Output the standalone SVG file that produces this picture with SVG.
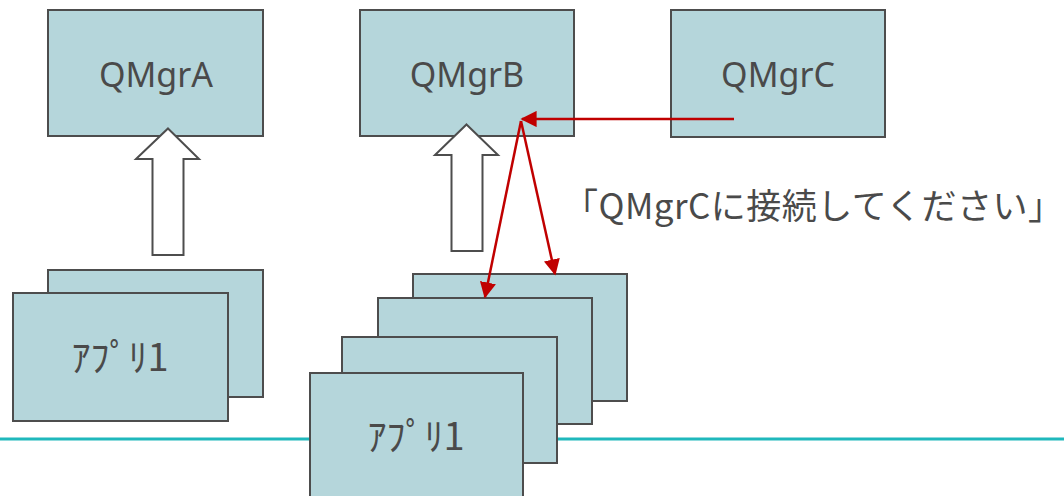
<svg xmlns="http://www.w3.org/2000/svg" width="1064" height="496" viewBox="0 0 1064 496">
<defs>
<style>
.box{fill:#b5d6db;stroke:#4d4d4d;stroke-width:2}
.lbl{font-family:"Noto Sans","Liberation Sans",sans-serif;font-size:34px;fill:#4a4a4a;text-anchor:middle}
.app{font-family:"Noto Sans CJK JP",sans-serif;font-size:38px;fill:#4a4a4a;text-anchor:middle}
.hollow{fill:#ffffff;stroke:#4d4d4d;stroke-width:2;stroke-linejoin:miter}
.red{stroke:#c00000;stroke-width:2.5;fill:none}
.note{font-family:"Noto Sans CJK JP",sans-serif;font-size:35px;fill:#4a4a4a}
</style>
<marker id="ah" viewBox="0 0 10 10" refX="9" refY="5" markerWidth="6.5" markerHeight="6.5" markerUnits="strokeWidth" orient="auto">
<path d="M0,0 L10,5 L0,10 z" fill="#c00000"/>
</marker>
</defs>
<rect width="1064" height="496" fill="#ffffff"/>
<line x1="0" y1="439" x2="1064" y2="439" stroke="#1fb8bc" stroke-width="3"/>
<g id="qmgrA"><rect class="box" x="48" y="10" width="215" height="126"/><text class="lbl" x="156" y="87">QMgrA</text></g>
<g id="qmgrB"><rect class="box" x="360" y="10" width="214" height="126"/><text class="lbl" x="467" y="87">QMgrB</text></g>
<g id="qmgrC"><rect class="box" x="671" y="10" width="214" height="127"/><text class="lbl" x="778" y="87">QMgrC</text></g>
<g id="appsLeft">
<rect class="box" x="48" y="270" width="215" height="127"/>
<rect class="box" x="13" y="293" width="215" height="128"/>
<text class="app" x="120" y="371">ｱﾌﾟﾘ1</text>
</g>
<g id="appsRight">
<rect class="box" x="413" y="274" width="214" height="127"/>
<rect class="box" x="378" y="298" width="214" height="126"/>
<rect class="box" x="342" y="337" width="215" height="126"/>
<rect class="box" x="310" y="373" width="213" height="130"/>
<text class="app" x="416" y="450">ｱﾌﾟﾘ1</text>
</g>
<g id="connectors">
<path class="hollow" d="M168,128.5 L199,159 L183.5,159 L183.5,255 L152.5,255 L152.5,159 L136,159 Z"/>
<path class="hollow" d="M466.5,124.5 L498,155 L482.5,155 L482.5,251 L451.5,251 L451.5,155 L435,155 Z"/>
<line class="red" x1="734" y1="119" x2="522" y2="119" marker-end="url(#ah)"/>
<line class="red" x1="521" y1="121" x2="485" y2="297" marker-end="url(#ah)"/>
<line class="red" x1="521" y1="121" x2="555" y2="274" marker-end="url(#ah)"/>
</g>
<text class="note" x="563" y="219" textLength="500" lengthAdjust="spacing">「QMgrCに接続してください」</text>
</svg>
